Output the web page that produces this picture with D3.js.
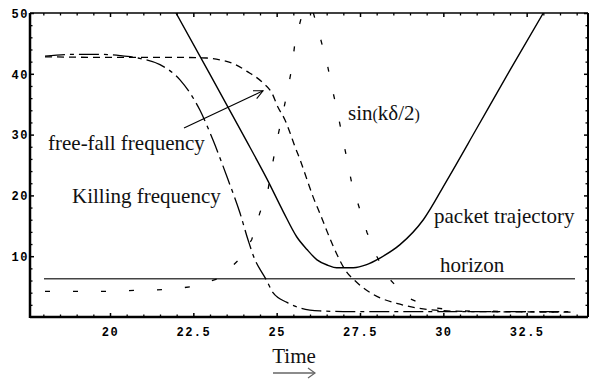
<!DOCTYPE html>
<html>
<head>
<meta charset="utf-8">
<script src="https://cdn.jsdelivr.net/npm/d3@7"></script>
<style>
  body { margin: 0; background: #fff; }
  .tick-label { font-family: "Liberation Mono", "DejaVu Sans Mono", monospace; font-weight: bold; font-size: 12px; letter-spacing: 1.5px; }
  .note { font-family: "Liberation Serif", "Times New Roman", serif; font-size: 21px; fill: #111; }
</style>
</head>
<body>
<div id="chart"></div>
<script>
// Series: [time, value]
const packetTrajectory = [
  [21.98, 50], [23.0, 39.9], [24.0, 29.9], [24.7, 22.8], [25.2, 17.3], [25.6, 13.2],
  [25.91, 11.1], [26.21, 9.4], [26.54, 8.5], [26.8, 8.1], [27.3, 8.1], [27.7, 8.6],
  [28.1, 9.7], [28.7, 11.9], [29.4, 16.0], [30.1, 22.4], [31.0, 31.0], [32.0, 40.6], [33.0, 50]
];
const killingFrequency = [
  [18.05, 42.9], [19.0, 43.2], [19.6, 43.2], [20.3, 43.0], [20.84, 42.6], [21.5, 41.5],
  [22.1, 39.0], [22.7, 34.0], [23.09, 29.1], [23.54, 22.6], [23.9, 17.1], [24.14, 12.7],
  [24.35, 9.4], [24.56, 7.3], [24.68, 6.2], [24.89, 4.0], [25.31, 2.4], [25.7, 1.5],
  [26.3, 1.0], [27.0, 0.9], [30.0, 0.9], [33.9, 0.9]
];
const freeFallFrequency = [
  [18.05, 42.8], [20.0, 42.7], [22.0, 42.7], [22.9, 42.6], [23.3, 42.3], [23.69, 41.7],
  [24.11, 40.4], [24.59, 38.5], [24.86, 36.8], [25.04, 34.5], [25.25, 32.4], [25.4, 30.3],
  [25.55, 28.0], [25.7, 25.9], [25.91, 22.6], [26.09, 19.8], [26.3, 17.0], [26.7, 11.6],
  [27.05, 7.8], [27.4, 5.7], [27.9, 3.7], [28.7, 2.1], [29.6, 1.2], [30.8, 0.9], [33.9, 0.8]
];
const sinKDelta = [
  [18.05, 4.2], [19.16, 4.2], [20.0, 4.2], [20.81, 4.4], [21.65, 4.5], [22.49, 5.0],
  [23.3, 6.4], [23.84, 9.3], [24.25, 12.7], [24.5, 17.2], [24.74, 20.9], [24.86, 24.7],
  [25.01, 29.1], [25.19, 33.6], [25.31, 36.8], [25.46, 41.1], [25.55, 45.2], [25.76, 49.7],
  [26.05, 51.0], [26.3, 46.1], [26.51, 41.8], [26.66, 37.7], [26.81, 34.1], [26.96, 30.0],
  [27.11, 25.9], [27.26, 21.8], [27.5, 17.6], [27.71, 13.9], [28.01, 9.9], [28.34, 6.5],
  [28.91, 3.2], [29.6, 1.6], [30.5, 1.0], [33.9, 0.8]
];
const horizon = [[18.02, 6.3], [33.95, 6.3]];

// Tick values
const xMajorTicks = [20, 22.5, 25, 27.5, 30, 32.5];
const yMajorTicks = [10, 20, 30, 40, 50];

// Annotation arrow (data coords) pointing at free-fall curve
const freeFallArrow = [[22.22, 31.1], [24.59, 37.2]];

const width = 590, height = 379;
const plot = { left: 30, right: 588, top: 13, bottom: 317 };

const svg = d3.select("#chart").append("svg")
  .attr("width", width)
  .attr("height", height);

const x = d3.scaleLinear().domain([17.6, 34.34]).range([plot.left, plot.right]);
const y = d3.scaleLinear().domain([0, 50]).range([plot.bottom, plot.top]);

svg.append("defs").append("clipPath").attr("id", "clip")
  .append("rect")
  .attr("x", plot.left).attr("y", plot.top)
  .attr("width", plot.right - plot.left).attr("height", plot.bottom - plot.top);

// Minor ticks
const xMinor = d3.range(18, 34.01, 0.5).filter(t => !xMajorTicks.includes(t));
const yMinor = d3.range(2, 50, 2).filter(v => !yMajorTicks.includes(v));

function frameAxis(axis, major, minor, transform, showLabels) {
  const g = svg.append("g").attr("transform", transform);
  g.call(axis.tickValues(major).tickSizeOuter(0).tickSizeInner(-4)
    .tickFormat(showLabels ? d3.format("") : ""));
  g.select(".domain").remove();
  g.selectAll(".tick line").attr("stroke", "#000").attr("stroke-width", 1.5);
  g.selectAll(".tick text").attr("class", "tick-label").attr("fill", "#000");
  const m = svg.append("g").attr("transform", transform);
  m.call(axis.tickValues(minor).tickSizeInner(-2.5).tickFormat(""));
  m.select(".domain").remove();
  m.selectAll(".tick line").attr("stroke", "#000").attr("stroke-width", 1.3);
  return g;
}

const gx = frameAxis(d3.axisBottom(x), xMajorTicks, xMinor, `translate(0,${plot.bottom})`, true);
gx.selectAll(".tick text").attr("y", 10).attr("dy", "0.71em");
frameAxis(d3.axisTop(x), xMajorTicks, xMinor, `translate(0,${plot.top})`, false);
const gy = frameAxis(d3.axisLeft(y), yMajorTicks, yMinor, `translate(${plot.left},0)`, true);
gy.selectAll(".tick text").attr("x", -1).attr("dy", "0.36em");
frameAxis(d3.axisRight(y), yMajorTicks, yMinor, `translate(${plot.right},0)`, false);

// Frame lines
svg.append("line").attr("x1", plot.left).attr("x2", plot.right).attr("y1", plot.bottom).attr("y2", plot.bottom)
  .attr("stroke", "#000").attr("stroke-width", 2.5);
svg.append("line").attr("x1", plot.left).attr("x2", plot.left).attr("y1", plot.top).attr("y2", plot.bottom + 1)
  .attr("stroke", "#000").attr("stroke-width", 2.5);
svg.append("line").attr("x1", plot.left).attr("x2", plot.right).attr("y1", plot.top).attr("y2", plot.top)
  .attr("stroke", "#000").attr("stroke-width", 1.5);
svg.append("line").attr("x1", plot.right).attr("x2", plot.right).attr("y1", plot.top).attr("y2", plot.bottom)
  .attr("stroke", "#000").attr("stroke-width", 2);

const curves = svg.append("g").attr("clip-path", "url(#clip)");
const smooth = d3.line().x(d => x(d[0])).y(d => y(d[1])).curve(d3.curveMonotoneX);
const straight = d3.line().x(d => x(d[0])).y(d => y(d[1]));

curves.append("path").attr("d", straight(horizon))
  .attr("fill", "none").attr("stroke", "#444").attr("stroke-width", 1.6);
curves.append("path").attr("d", smooth(packetTrajectory))
  .attr("fill", "none").attr("stroke", "#000").attr("stroke-width", 1.4);
curves.append("path").attr("d", smooth(killingFrequency))
  .attr("fill", "none").attr("stroke", "#000").attr("stroke-width", 1.3)
  .attr("stroke-dasharray", "20,5,4,5");
curves.append("path").attr("d", smooth(freeFallFrequency))
  .attr("fill", "none").attr("stroke", "#000").attr("stroke-width", 1.3)
  .attr("stroke-dasharray", "7,5");
curves.append("path").attr("d", straight(sinKDelta))
  .attr("fill", "none").attr("stroke", "#000").attr("stroke-width", 1.3)
  .attr("stroke-dasharray", "5,23");

// Arrow to free-fall curve
const [a0, a1] = freeFallArrow.map(p => [x(p[0]), y(p[1])]);
svg.append("line").attr("x1", a0[0]).attr("y1", a0[1]).attr("x2", a1[0]).attr("y2", a1[1])
  .attr("stroke", "#000").attr("stroke-width", 1.1);
const ang = Math.atan2(a1[1] - a0[1], a1[0] - a0[0]);
const head = [-0.45, 0.45].map(s => [a1[0] - 10 * Math.cos(ang + s), a1[1] - 10 * Math.sin(ang + s)]);
svg.append("path")
  .attr("d", `M${head[0][0]},${head[0][1]}L${a1[0]},${a1[1]}L${head[1][0]},${head[1][1]}`)
  .attr("fill", "none").attr("stroke", "#000").attr("stroke-width", 1.1);

// Text labels
svg.append("text").attr("class", "note").attr("x", 48).attr("y", 150).text("free-fall frequency");
svg.append("text").attr("class", "note").attr("x", 72).attr("y", 203).text("Killing frequency");
svg.append("text").attr("class", "note").attr("x", 434).attr("y", 223).text("packet trajectory");
svg.append("text").attr("class", "note").attr("x", 440).attr("y", 272).text("horizon");
const sinLabel = svg.append("text").attr("class", "note").attr("x", 348).attr("y", 119.5);
sinLabel.append("tspan").text("sin");
sinLabel.append("tspan").attr("font-size", 16).text("(");
sinLabel.append("tspan").text("kδ/2");
sinLabel.append("tspan").attr("font-size", 16).text(")");

// Axis title with arrow
svg.append("text").attr("class", "note").attr("x", 294).attr("y", 363)
  .attr("text-anchor", "middle").text("Time");
svg.append("line").attr("x1", 273).attr("x2", 315).attr("y1", 373).attr("y2", 373)
  .attr("stroke", "#666").attr("stroke-width", 1.5);
svg.append("path").attr("d", "M308,368L315,373L308,378")
  .attr("fill", "none").attr("stroke", "#666").attr("stroke-width", 1.2);
</script>
</body>
</html>
